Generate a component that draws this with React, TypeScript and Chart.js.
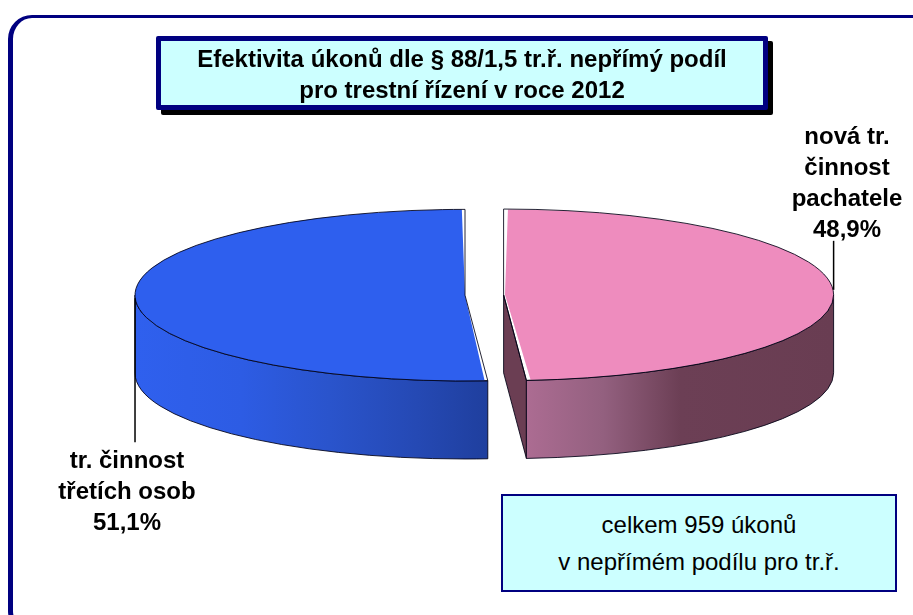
import React, { useEffect, useRef } from "react";
import { Chart, registerables } from "chart.js";

Chart.register(...registerables);

const categories = ["nová tr. činnost pachatele", "tr. činnost třetích osob"];
const shares = [48.9, 51.1];
const topColors = ["#EE8CBE", "#2E5FEE"];
const pinkWallStops: [number, string][] = [
  [0, "#AC6C92"],
  [0.25, "#93607F"],
  [0.5, "#6C3F55"],
  [1, "#693D52"],
];
const blueWallStops: [number, string][] = [
  [0, "#2F60EE"],
  [0.3, "#2D5CE4"],
  [0.55, "#2A54CC"],
  [0.8, "#2549B4"],
  [1, "#1F3F9E"],
];
const cutFaceColor = "#6B3E53";
const titleLines = ["Efektivita úkonů dle § 88/1,5 tr.ř. nepřímý podíl", "pro trestní řízení v roce 2012"];
const noteLines = ["celkem 959 úkonů", "v nepřímém podílu pro tr.ř."];
const pinkLabel = ["nová tr.", "činnost", "pachatele", "48,9%"];
const blueLabel = ["tr. činnost", "třetích osob", "51,1%"];

const squash = 0.26;
const depth = 78;
const sliceOffset = 80;
const outline = "rgba(0,0,20,0.85)";

function arcGeometry(arc: any) {
  const o = sliceOffset / 4;
  const fix = 1 - Math.sin(Math.min(Math.PI, arc.circumference));
  const mid = (arc.startAngle + arc.endAngle) / 2;
  const X = arc.x + Math.cos(mid) * o * fix;
  const Y = arc.y + Math.sin(mid) * o * fix * squash;
  return { X, Y, rx: arc.outerRadius + o, ry: (arc.outerRadius + o) * squash, start: arc.startAngle, end: arc.endAngle };
}

const pie3d = {
  id: "pie3d",
  beforeDatasetsDraw(chart: any) {
    const ctx = chart.ctx;
    const arcs = chart.getDatasetMeta(0).data;
    arcs.forEach((arc: any, i: number) => {
      const g = arcGeometry(arc);
      const a0 = Math.max(g.start, 0);
      const a1 = Math.min(g.end, Math.PI);
      const x0 = g.X + g.rx * Math.cos(a0);
      const x1 = g.X + g.rx * Math.cos(a1);
      const left = Math.min(x0, x1);
      const right = Math.max(x0, x1);
      // cut face of the slice that ends at the front
      if (i === 0) {
        const ex = g.X + g.rx * Math.cos(g.end);
        const ey = g.Y + g.ry * Math.sin(g.end);
        ctx.beginPath();
        ctx.moveTo(g.X, g.Y);
        ctx.lineTo(ex, ey);
        ctx.lineTo(ex, ey + depth);
        ctx.lineTo(g.X, g.Y + depth);
        ctx.closePath();
        ctx.fillStyle = cutFaceColor;
        ctx.fill();
        ctx.strokeStyle = outline;
        ctx.lineWidth = 1;
        ctx.stroke();
      }
      const grad = ctx.createLinearGradient(left, 0, right, 0);
      (i === 0 ? pinkWallStops : blueWallStops).forEach(([p, c]) => grad.addColorStop(p, c));
      ctx.beginPath();
      ctx.ellipse(g.X, g.Y, g.rx, g.ry, 0, a0, a1);
      ctx.ellipse(g.X, g.Y + depth, g.rx, g.ry, 0, a1, a0, true);
      ctx.closePath();
      ctx.fillStyle = grad;
      ctx.fill();
      ctx.strokeStyle = outline;
      ctx.lineWidth = 1;
      ctx.stroke();
    });
    const cx = arcs[0].x;
    const cy = arcs[0].y;
    ctx.save();
    ctx.translate(cx, cy);
    ctx.scale(1, squash);
    ctx.translate(-cx, -cy);
  },
  afterDatasetsDraw(chart: any) {
    const ctx = chart.ctx;
    ctx.restore();
    const arcs = chart.getDatasetMeta(0).data;
    arcs.forEach((arc: any, i: number) => {
      const g = arcGeometry(arc);
      ctx.beginPath();
      ctx.moveTo(g.X, g.Y);
      ctx.ellipse(g.X, g.Y, g.rx, g.ry, 0, g.start, g.end);
      ctx.closePath();
      ctx.strokeStyle = outline;
      ctx.lineWidth = 1;
      ctx.stroke();
      // leader lines to the labels
      ctx.beginPath();
      ctx.strokeStyle = "#000";
      ctx.lineWidth = 1.5;
      if (i === 0) {
        ctx.moveTo(g.X + g.rx, g.Y - 5);
        ctx.lineTo(g.X + g.rx, g.Y - 54);
      } else {
        ctx.moveTo(g.X - g.rx, g.Y + 3);
        ctx.lineTo(g.X - g.rx, g.Y + 147);
      }
      ctx.stroke();
    });
  },
};

const labelStyle: React.CSSProperties = {
  position: "absolute",
  transform: "translateX(-50%)",
  textAlign: "center",
  fontFamily: "'Liberation Sans', Arial, sans-serif",
  fontWeight: "bold",
  fontSize: 24,
  lineHeight: "31px",
  color: "#000",
  whiteSpace: "nowrap",
};

export default function App() {
  const ref = useRef<HTMLCanvasElement>(null);
  useEffect(() => {
    const chart = new Chart(ref.current!, {
      type: "pie",
      data: {
        labels: categories,
        datasets: [
          {
            data: shares,
            backgroundColor: topColors,
            borderWidth: 0,
            offset: sliceOffset,
            clip: false,
          } as any,
        ],
      },
      options: {
        responsive: false,
        animation: false,
        radius: 310,
        layout: { padding: { left: 57, bottom: 25 } },
        plugins: { legend: { display: false }, tooltip: { enabled: false }, title: { display: false } },
      } as any,
      plugins: [pie3d],
    });
    return () => chart.destroy();
  }, []);

  return (
    <div style={{ position: "absolute", left: 0, top: 0, width: 913, height: 615, overflow: "hidden", background: "#fff" }}>
      <div
        style={{
          position: "absolute",
          left: 8,
          top: 15,
          width: 940,
          height: 620,
          boxSizing: "border-box",
          borderStyle: "solid",
          borderColor: "#000080",
          borderWidth: "3px 5px 5px 5px",
          borderRadius: 24,
        }}
      />
      <div
        style={{
          position: "absolute",
          left: 8,
          top: 15,
          width: 905,
          height: 600,
          boxSizing: "border-box",
          borderRight: "none",
        }}
      />
      <canvas ref={ref} width={913} height={615} style={{ position: "absolute", left: 0, top: 0, display: "block" }} />
      <div
        style={{
          position: "absolute",
          left: 156,
          top: 36,
          width: 612,
          height: 74,
          boxSizing: "border-box",
          background: "#CCFFFF",
          border: "5px solid #000080",
          borderRadius: 2,
          boxShadow: "5px 5px 0 #000",
          textAlign: "center",
          fontFamily: "'Liberation Sans', Arial, sans-serif",
          fontWeight: "bold",
          fontSize: 24,
          lineHeight: "31px",
          paddingTop: 2,
          whiteSpace: "nowrap",
          color: "#000",
        }}
      >
        {titleLines.map((t) => (
          <div key={t}>{t}</div>
        ))}
      </div>
      <div style={{ ...labelStyle, left: 847, top: 120 }}>
        {pinkLabel.map((t) => (
          <div key={t}>{t}</div>
        ))}
      </div>
      <div style={{ ...labelStyle, left: 127, top: 444 }}>
        {blueLabel.map((t) => (
          <div key={t}>{t}</div>
        ))}
      </div>
      <div
        style={{
          position: "absolute",
          left: 501,
          top: 494,
          width: 396,
          height: 98,
          boxSizing: "border-box",
          background: "#CCFFFF",
          border: "2px solid #000080",
          textAlign: "center",
          fontFamily: "'Liberation Sans', Arial, sans-serif",
          fontSize: 24,
          lineHeight: "37px",
          paddingTop: 10,
          whiteSpace: "nowrap",
          color: "#000",
        }}
      >
        {noteLines.map((t) => (
          <div key={t}>{t}</div>
        ))}
      </div>
    </div>
  );
}
